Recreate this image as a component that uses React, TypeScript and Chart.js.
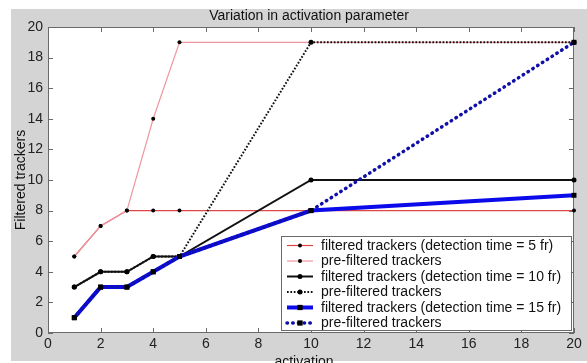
import React, { useEffect, useRef } from "react";
import { Chart, registerables } from "chart.js";

Chart.register(...registerables);

// ---- data ----
const activation = [1, 2, 3, 4, 5, 10, 20];
const filtered5 = [5, 7, 8, 8, 8, 8, 8];
const preFiltered5 = [5, 7, 8, 14, 19, 19, 19];
const filtered10 = [3, 4, 4, 5, 5, 10, 10];
const preFiltered10 = [3, 4, 4, 5, 5, 19, 19];
const filtered15 = [1, 3, 3, 4, 5, 8, 9];
const preFiltered15 = [1, 3, 3, 4, 5, 8, 19];

const seriesLabels = [
  "filtered trackers (detection time = 5 fr)",
  "pre-filtered trackers",
  "filtered trackers (detection time = 10 fr)",
  "pre-filtered trackers",
  "filtered trackers (detection time = 15 fr)",
  "pre-filtered trackers",
];

const chartTitle = "Variation in activation parameter";
const xTitle = "activation";
const yTitle = "Filtered trackers";
const axisMin = 0;
const axisMax = 20;
const tickStep = 2;

const FONT = '"Liberation Sans", Arial, Helvetica, sans-serif';

const pts = (ys: number[]) => activation.map((x, i) => ({ x, y: ys[i] }));

const decorPlugin = {
  id: "decor",
  beforeDraw(chart: any) {
    const { ctx, width, height, chartArea: a } = chart;
    ctx.save();
    ctx.fillStyle = "#ffffff";
    ctx.fillRect(0, 0, width, height);
    ctx.fillStyle = "#d4d4d4";
    ctx.fillRect(11, 9, width - 11, 352);
    ctx.fillStyle = "#ffffff";
    ctx.fillRect(a.left, a.top, a.right - a.left, a.bottom - a.top);
    ctx.restore();
  },
  beforeDatasetsDraw(chart: any) {
    const { ctx, chartArea: a, scales } = chart;
    ctx.save();
    ctx.strokeStyle = "#6a6a6a";
    ctx.lineWidth = 1;
    ctx.strokeRect(a.left + 0.5, a.top + 0.5, a.right - a.left - 1, a.bottom - a.top - 1);
    const tl = 5;
    ctx.beginPath();
    scales.x.ticks.forEach((t: any) => {
      const px = Math.round(scales.x.getPixelForValue(t.value)) + 0.5;
      ctx.moveTo(px, a.bottom);
      ctx.lineTo(px, a.bottom - tl);
      ctx.moveTo(px, a.top);
      ctx.lineTo(px, a.top + tl);
    });
    scales.y.ticks.forEach((t: any) => {
      const py = Math.round(scales.y.getPixelForValue(t.value)) + 0.5;
      ctx.moveTo(a.left, py);
      ctx.lineTo(a.left + tl, py);
      ctx.moveTo(a.right, py);
      ctx.lineTo(a.right - tl, py);
    });
    ctx.stroke();
    ctx.restore();
  },
  afterDatasetsDraw(chart: any) {
    const { ctx, chartArea: a } = chart;
    const ds = chart.data.datasets;
    const lw = 290;
    const lh = 94;
    const lx = a.right - 3 - lw;
    const ly = a.bottom - 3 - lh;
    ctx.save();
    ctx.fillStyle = "#ffffff";
    ctx.fillRect(lx, ly, lw, lh);
    ctx.strokeStyle = "#6a6a6a";
    ctx.lineWidth = 1;
    ctx.strokeRect(lx + 0.5, ly + 0.5, lw, lh);
    ds.forEach((d: any, i: number) => {
      const y = ly + 9.5 + i * 15.5;
      ctx.save();
      ctx.setLineDash(d.borderDash || []);
      ctx.lineCap = d.borderCapStyle || "butt";
      ctx.strokeStyle = d.borderColor;
      ctx.lineWidth = d.borderWidth;
      ctx.beginPath();
      ctx.moveTo(lx + 6, y);
      ctx.lineTo(lx + 32, y);
      ctx.stroke();
      ctx.restore();
      const mx = lx + 19;
      const r = d.pointRadius;
      ctx.fillStyle = d.pointBackgroundColor;
      if (d.pointStyle === "rect") {
        ctx.fillRect(mx - r * 0.75, y - r * 0.75, r * 1.5, r * 1.5);
      } else {
        ctx.beginPath();
        ctx.arc(mx, y, r, 0, Math.PI * 2);
        ctx.fill();
      }
      ctx.fillStyle = "#111111";
      ctx.font = `14px ${FONT}`;
      ctx.textAlign = "left";
      ctx.textBaseline = "middle";
      ctx.fillText(seriesLabels[i], lx + 40, y + 0.5);
    });
    ctx.restore();
  },
  afterDraw(chart: any) {
    const { ctx, chartArea: a } = chart;
    ctx.save();
    ctx.fillStyle = "#111111";
    ctx.font = `14px ${FONT}`;
    ctx.textAlign = "center";
    ctx.textBaseline = "alphabetic";
    ctx.fillText(chartTitle, (a.left + a.right) / 2 - 2, 20);
    ctx.fillText(xTitle, (a.left + a.right) / 2 - 7, 366);
    ctx.translate(25, (a.top + a.bottom) / 2);
    ctx.rotate(-Math.PI / 2);
    ctx.fillText(yTitle, 0, 0);
    ctx.restore();
  },
};

export default function App() {
  const ref = useRef<HTMLCanvasElement | null>(null);
  useEffect(() => {
    if (!ref.current) return;
    const mk = (
      i: number,
      ys: number[],
      color: string,
      width: number,
      dash: number[],
      cap: string,
      pointStyle: string,
      radius: number
    ) => ({
      label: seriesLabels[i],
      data: pts(ys),
      borderColor: color,
      backgroundColor: color,
      borderWidth: width,
      borderDash: dash,
      borderCapStyle: cap,
      pointStyle,
      pointRadius: radius,
      pointBackgroundColor: "#000000",
      pointBorderColor: "#000000",
      pointBorderWidth: 0,
      tension: 0,
      fill: false,
      clip: false,
      order: 6 - i,
    });
    const chart = new Chart(ref.current, {
      type: "line",
      data: {
        datasets: [
          mk(0, filtered5, "rgb(222,70,70)", 1.2, [], "butt", "circle", 2),
          mk(1, preFiltered5, "rgb(240,150,160)", 1.2, [], "butt", "circle", 2),
          mk(2, filtered10, "#111111", 2, [], "butt", "circle", 2.5),
          mk(3, preFiltered10, "#111111", 2, [1.7, 1.7], "butt", "circle", 2.5),
          mk(4, filtered15, "rgb(10,10,235)", 4, [], "butt", "rect", 3.5),
          mk(5, preFiltered15, "rgb(15,15,170)", 3.5, [0.5, 5.2], "round", "rect", 3.5),
        ] as any,
      },
      options: {
        animation: false,
        responsive: false,
        devicePixelRatio: 1,
        layout: { padding: { top: 27, right: 13, left: 0, bottom: 0 } },
        plugins: {
          legend: { display: false },
          title: { display: false },
          tooltip: { enabled: false },
        },
        scales: {
          x: {
            type: "linear",
            min: axisMin,
            max: axisMax,
            ticks: {
              stepSize: tickStep,
              padding: 3,
              color: "#222222",
              font: { family: FONT, size: 14 },
              maxRotation: 0,
            },
            grid: { display: false, drawTicks: false },
            border: { display: false },
            afterFit: (s: any) => {
              s.height = 30;
            },
          },
          y: {
            type: "linear",
            min: axisMin,
            max: axisMax,
            ticks: {
              stepSize: tickStep,
              padding: 5,
              color: "#222222",
              font: { family: FONT, size: 14 },
            },
            grid: { display: false, drawTicks: false },
            border: { display: false },
            afterFit: (s: any) => {
              s.width = 48;
            },
          },
        },
      } as any,
      plugins: [decorPlugin],
    });
    return () => chart.destroy();
  }, []);
  return (
    <div style={{ position: "fixed", left: 0, top: 0, width: 587, height: 363 }}>
      <canvas ref={ref} width={587} height={363} style={{ display: "block" }} />
    </div>
  );
}
